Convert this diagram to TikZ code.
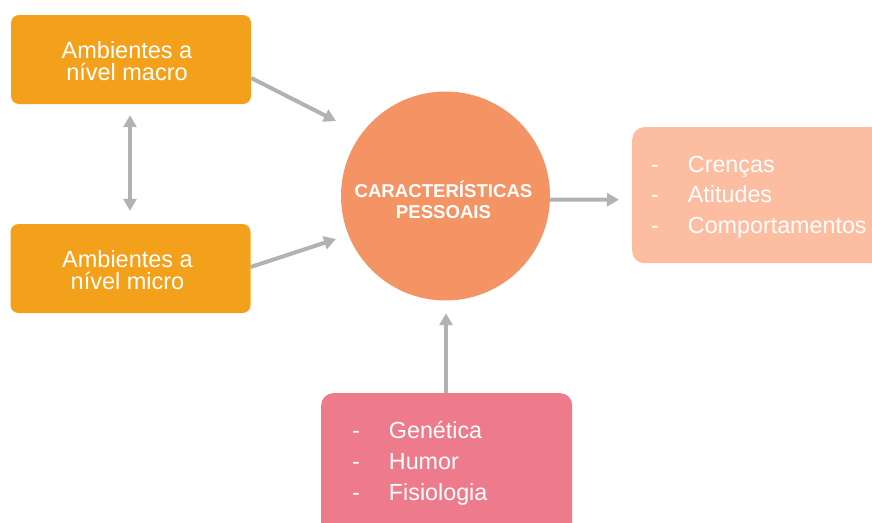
\documentclass[tikz,border=0pt]{standalone}
\usepackage{fontspec}
\setmainfont{Liberation Sans}
\usetikzlibrary{arrows.meta,calc}
\definecolor{cmacro}{RGB}{243,161,26}
\definecolor{ccore}{RGB}{244,148,100}
\definecolor{cout}{RGB}{253,189,160}
\definecolor{cin}{RGB}{238,123,140}
\definecolor{cgray}{RGB}{178,178,178}
\begin{document}
\begin{tikzpicture}[x=1pt,y=-1pt,
  envbox/.style={fill=cmacro, rounded corners=8pt, inner sep=0pt,
    minimum width=240pt, minimum height=89pt},
  envtext/.style={text=white, align=center, inner sep=0pt, font=\fontsize{23.5}{21.6}\selectfont},
  listbox/.style={rounded corners=12pt, inner sep=0pt, anchor=north west},
  listtext/.style={text=white, inner sep=0pt, anchor=base west, font=\fontsize{23.3}{30.5}\selectfont},
  conn/.style={draw=cgray, line width=4pt, -{Triangle[length=12pt,width=13pt]}},
  biconn/.style={draw=cgray, line width=4pt, {Triangle[length=12pt,width=13pt]}-{Triangle[length=12pt,width=13pt]}}
]
\useasboundingbox (0,0) rectangle (872,522);

\node[envbox] (macro) at (131,59.5) {};
\node[envtext] (macrotext) at (127,61) {Ambientes a\\nível macro};
\node[envbox] (micro) at (130.5,268.5) {};
\node[envtext] (microtext) at (127.5,270) {Ambientes a\\nível micro};

\node[circle, fill=ccore, minimum size=209pt, inner sep=0pt] (core) at (445.5,196) {};
\node[text=white, align=center, inner sep=0pt,
  font=\bfseries\fontsize{18.6}{21.6}\selectfont] (coretext) at (443.5,200) {CARACTERÍSTICAS\\PESSOAIS};

\node[listbox, fill=cout, minimum width=270pt, minimum height=136pt] (out) at (632,127) {};
\node[listtext] (outlist) at (651,172.3)
  {\begin{tabular}[t]{@{}l@{\hspace{29pt}}l@{}}-&Crenças\\-&Atitudes\\-&Comportamentos\end{tabular}};

\node[listbox, fill=cin, minimum width=251pt, minimum height=150pt] (in) at (321,393) {};
\node[listtext, font=\fontsize{23.3}{31}\selectfont] (inlist) at (352,438)
  {\begin{tabular}[t]{@{}l@{\hspace{29pt}}l@{}}-&Genética\\-&Humor\\-&Fisiologia\end{tabular}};

\coordinate (macroout) at ($(macro.east)+(0,18.5)$);
\coordinate (macrotip) at ($(core.center)+(-109.5,-75)$);
\coordinate (microout) at ($(micro.east)+(0,-1.5)$);
\coordinate (microtip) at ($(core.center)+(-109.5,43)$);
\coordinate (coreout) at ($(core.east)+(0,3.5)$);
\coordinate (outtip) at ($(out.west)+(-13,4.5)$);
\coordinate (inout) at ($(in.north west)+(125,0)$);
\coordinate (intip) at ($(core.south)+(0.5,12.5)$);

\draw[conn] (macroout) -- (macrotip);
\draw[conn] (microout) -- (microtip);
\draw[biconn, shorten <=11pt, shorten >=13pt] ([xshift=-1pt]macro.south) -- ([xshift=-0.5pt]micro.north);
\draw[conn] (coreout) -- (outtip);
\draw[conn] (inout) -- (intip);
\end{tikzpicture}
\end{document}
